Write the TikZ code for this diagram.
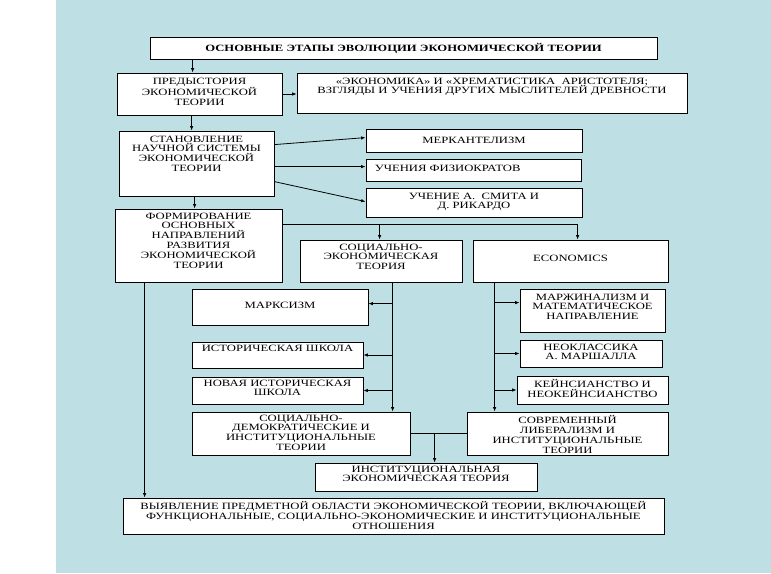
\documentclass[tikz,border=0pt]{standalone}
\usepackage{fontspec}
\setmainfont{Liberation Serif}[FakeStretch=1.32]
\usetikzlibrary{calc,arrows.meta}
\definecolor{bgblue}{RGB}{190,224,228}
\tikzset{
  boxst/.style={draw=black, line width=0.8pt, fill=white, inner sep=0pt, rectangle},
  txt/.style={align=center, inner sep=0pt, font=\fontsize{9.6}{9.8}\selectfont},
  arr/.style={line width=0.8pt, -{Latex[length=4.5pt,width=3.5pt]}},
  ln/.style={line width=0.8pt}
}
\newcommand\bx[7]{%
  \node[boxst, minimum width={(#4-#2)*1pt}, minimum height={(#5-#3)*1pt}] (#1) at ({(#2+#4)/2},{(#3+#5)/2}) {};
  \node[txt, anchor=north] (#1-t) at ($(#1.north)+(0,#6)$) {#7};}
\begin{document}
\begin{tikzpicture}[x=1pt,y=-1pt]
\useasboundingbox (0,0) rectangle (771,573);
\fill[white] (0,0) rectangle (771,573);
\fill[bgblue] (56,0) rectangle (771,573);

\bx{title}{150}{37}{657}{59}{7}{\bfseries ОСНОВНЫЕ ЭТАПЫ ЭВОЛЮЦИИ ЭКОНОМИЧЕСКОЙ ТЕОРИИ}
\bx{pre}{117}{73}{282}{115}{5}{ПРЕДЫСТОРИЯ\\ЭКОНОМИЧЕСКОЙ\\ТЕОРИИ}
\bx{ari}{297}{73}{687}{113}{5}{«ЭКОНОМИКА» И «ХРЕМАТИСТИКА\ \ АРИСТОТЕЛЯ;\\ВЗГЛЯДЫ И УЧЕНИЯ ДРУГИХ МЫСЛИТЕЛЕЙ ДРЕВНОСТИ}
\bx{stan}{119}{131}{274}{196}{5}{СТАНОВЛЕНИЕ\\НАУЧНОЙ СИСТЕМЫ\\ЭКОНОМИЧЕСКОЙ\\ТЕОРИИ}
\bx{merk}{366}{129}{582}{152}{8}{МЕРКАНТЕЛИЗМ}
\node[boxst, minimum width=215pt, minimum height=22pt] (fizio) at (473.5,170) {};
\node[txt, anchor=north west] (fizio-t) at ($(fizio.north west)+(9,6)$) {УЧЕНИЯ ФИЗИОКРАТОВ};
\bx{smith}{366}{188}{582}{217}{5}{УЧЕНИЕ А.\ \ СМИТА И\\Д. РИКАРДО}
\bx{form}{115}{209}{282}{282}{4}{ФОРМИРОВАНИЕ\\ОСНОВНЫХ\\НАПРАВЛЕНИЙ\\РАЗВИТИЯ\\ЭКОНОМИЧЕСКОЙ\\ТЕОРИИ}
\bx{socek}{300}{240}{462}{282}{4}{СОЦИАЛЬНО-\\ЭКОНОМИЧЕСКАЯ\\ТЕОРИЯ}
\bx{econ}{473}{240}{668}{282}{15}{ECONOMICS}
\bx{marx}{192}{289}{368}{325}{13}{МАРКСИЗМ}
\bx{hist}{192}{342}{363}{368}{3}{ИСТОРИЧЕСКАЯ ШКОЛА}
\bx{newhist}{192}{377}{363}{404}{3}{НОВАЯ ИСТОРИЧЕСКАЯ\\ШКОЛА}
\bx{socdem}{192}{412}{410}{455}{3}{СОЦИАЛЬНО-\\ДЕМОКРАТИЧЕСКИЕ И\\ИНСТИТУЦИОНАЛЬНЫЕ\\ТЕОРИИ}
\bx{marg}{520}{289}{665}{332}{5}{МАРЖИНАЛИЗМ И\\МАТЕМАТИЧЕСКОЕ\\НАПРАВЛЕНИЕ}
\bx{neo}{520}{340}{662}{367}{4}{НЕОКЛАССИКА\\А. МАРШАЛЛА}
\bx{keyn}{517}{376}{668}{404}{4}{КЕЙНСИАНСТВО И\\НЕОКЕЙНСИАНСТВО}
\bx{mod}{467}{412}{668}{455}{4}{СОВРЕМЕННЫЙ\\ЛИБЕРАЛИЗМ И\\ИНСТИТУЦИОНАЛЬНЫЕ\\ТЕОРИИ}
\bx{inst}{315}{463}{537}{491}{3}{ИНСТИТУЦИОНАЛЬНАЯ\\ЭКОНОМИЧЕСКАЯ ТЕОРИЯ}
\bx{bot}{123}{498}{664}{534}{4}{ВЫЯВЛЕНИЕ ПРЕДМЕТНОЙ ОБЛАСТИ ЭКОНОМИЧЕСКОЙ ТЕОРИИ, ВКЛЮЧАЮЩЕЙ\\ФУНКЦИОНАЛЬНЫЕ, СОЦИАЛЬНО-ЭКОНОМИЧЕСКИЕ И ИНСТИТУЦИОНАЛЬНЫЕ\\ОТНОШЕНИЯ}

% connectors
\coordinate (c1) at ($(title.south west)+(43,0)$);
\draw[arr] (c1) -- (c1 |- pre.north);
\draw[arr] (pre.east) -- (ari.west |- pre.east);
\coordinate (c2) at ($(pre.south west)+(75,0)$);
\draw[arr] (c2) -- (c2 |- stan.north);
\draw[arr] ($(stan.north east)+(0,14)$) -- ($(merk.north west)+(0,9)$);
\draw[arr] ($(stan.north east)+(0,36)$) -- ($(fizio.north west)+(0,8)$);
\draw[arr] ($(stan.north east)+(0,51)$) -- ($(smith.north west)+(0,14)$);
\coordinate (c3) at ($(stan.south west)+(76,0)$);
\draw[arr] (c3) -- (c3 |- form.north);
\coordinate (fy) at ($(form.north east)+(0,16)$);
\coordinate (ex) at ($(econ.north west)+(105,0)$);
\coordinate (sx) at ($(socek.north west)+(80,0)$);
\draw[arr] (fy) -| (ex);
\draw[arr] (sx |- fy) -- (sx);
% left spine
\coordinate (lx) at ($(form.south west)+(30,0)$);
\draw[arr] (lx) -- (lx |- bot.north);
% social spine
\coordinate (sp) at ($(socek.south west)+(93,0)$);
\draw[arr] (sp) -- (sp |- socdem.north);
\draw[arr] ($(sp |- marx.north)+(0,15)$) -- ($(marx.north east)+(0,15)$);
\draw[arr] (sp |- hist.east) -- (hist.east);
\draw[arr] (sp |- newhist.east) -- (newhist.east);
% economics spine
\coordinate (ep) at ($(econ.south west)+(22,0)$);
\draw[arr] (ep) -- (ep |- mod.north);
\draw[arr] ($(ep |- marg.north)+(0,14)$) -- ($(marg.north west)+(0,14)$);
\draw[arr] (ep |- neo.west) -- (neo.west);
\draw[arr] (ep |- keyn.west) -- (keyn.west);
% join to institutional
\draw[ln] (socdem.east) -- (mod.west |- socdem.east);
\coordinate (ix) at ($(inst.north west)+(120,0)$);
\draw[arr] (ix |- socdem.east) -- (ix);
\end{tikzpicture}
\end{document}
